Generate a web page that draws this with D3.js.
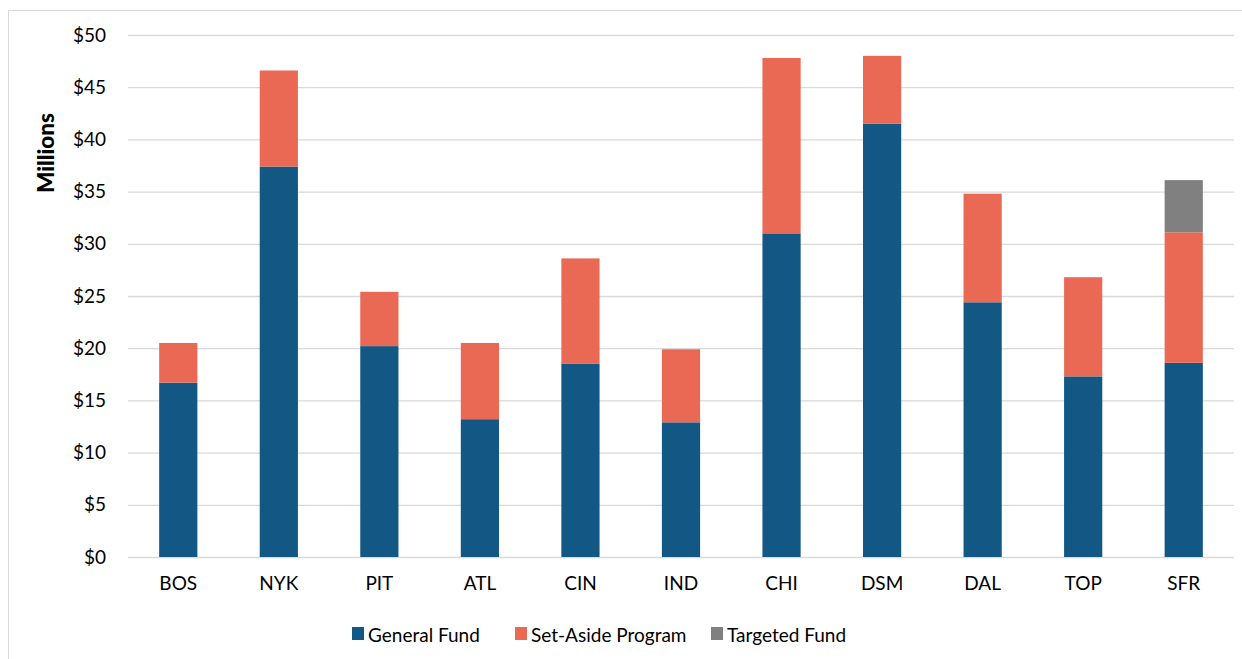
<!DOCTYPE html>
<html>
<head>
<meta charset="utf-8">
<script src="https://cdn.jsdelivr.net/npm/d3@7"></script>
<style>
  body { margin: 0; background: #fff; }
  text { font-family: Lato, "Open Sans", sans-serif; fill: #000; }
</style>
</head>
<body>
<div id="chart"></div>
<script>
// chart data (millions of dollars)
const cities = ["BOS", "NYK", "PIT", "ATL", "CIN", "IND", "CHI", "DSM", "DAL", "TOP", "SFR"];
const generalFund = [16.7, 37.4, 20.2, 13.2, 18.5, 12.9, 31.0, 41.5, 24.4, 17.3, 18.6];
const setAside    = [3.8, 9.2, 5.2, 7.3, 10.1, 7.0, 16.8, 6.5, 10.4, 9.5, 12.5];
const targeted    = [0, 0, 0, 0, 0, 0, 0, 0, 0, 0, 5.0];
const seriesNames = ["General Fund", "Set-Aside Program", "Targeted Fund"];
const yTicks = [0, 5, 10, 15, 20, 25, 30, 35, 40, 45, 50];

const colors = ["#135784", "#E96955", "#808080"];

const W = 1242, H = 659;
const margin = {top: 35, right: 8, bottom: 102, left: 128};
const width = W - margin.left - margin.right,
      height = H - margin.top - margin.bottom;

const svg = d3.select("#chart").append("svg")
    .attr("width", W).attr("height", H);

// outer chart frame
svg.append("rect")
  .attr("x", 8.5).attr("y", 10.5)
  .attr("width", W + 20).attr("height", H + 20)
  .attr("fill", "none").attr("stroke", "#d9d9d9").attr("stroke-width", 1);

const g = svg.append("g").attr("transform", `translate(${margin.left},${margin.top})`);

const rows = cities.map((c, i) => ({city: c, g: generalFund[i], s: setAside[i], t: targeted[i]}));
const stack = d3.stack().keys(["g", "s", "t"])(rows);

const x = d3.scaleBand().domain(cities).range([0, width]).paddingInner(0.62).paddingOuter(0.31);
const y = d3.scaleLinear().domain([0, 50]).range([height, 0]);

// gridlines
g.append("g")
  .call(d3.axisLeft(y).tickValues(yTicks).tickSize(-width).tickFormat(""))
  .call(a => a.select(".domain").remove())
  .call(a => a.selectAll("line").attr("stroke", "#d9d9d9").attr("stroke-width", 1.3));

// y labels
g.append("g")
  .call(d3.axisLeft(y).tickValues(yTicks).tickSize(0).tickPadding(22).tickFormat(d => "$" + d))
  .call(a => a.select(".domain").remove())
  .call(a => a.selectAll("text").style("font-size", "19px").attr("fill", "#000"));

// x labels
g.append("g")
  .attr("transform", `translate(0,${height})`)
  .call(d3.axisBottom(x).tickSize(0).tickPadding(20))
  .call(a => a.select(".domain").remove())
  .call(a => a.selectAll("text").style("font-size", "19px").attr("fill", "#000"));

// bars
g.append("g").selectAll("g")
  .data(stack)
  .join("g")
    .attr("fill", (d, i) => colors[i])
  .selectAll("rect")
  .data(d => d.filter(p => p[1] > p[0]))
  .join("rect")
    .attr("x", d => x(d.data.city))
    .attr("y", d => y(d[1]))
    .attr("width", x.bandwidth())
    .attr("height", d => y(d[0]) - y(d[1]));

// y axis title
svg.append("text")
  .attr("transform", "translate(45,153) rotate(-90)")
  .attr("text-anchor", "middle")
  .attr("dominant-baseline", "central")
  .style("font-size", "22.5px").style("font-weight", "900")
  .text("Millions");

// legend
const legendX = [352, 515, 711];
const legend = svg.append("g");
seriesNames.forEach((name, i) => {
  legend.append("rect").attr("x", legendX[i]).attr("y", 627).attr("width", 12).attr("height", 13).attr("fill", colors[i]);
  legend.append("text").attr("x", legendX[i] + 16).attr("y", 634)
    .attr("dominant-baseline", "central")
    .style("font-size", "19px").text(name);
});
</script>
</body>
</html>
